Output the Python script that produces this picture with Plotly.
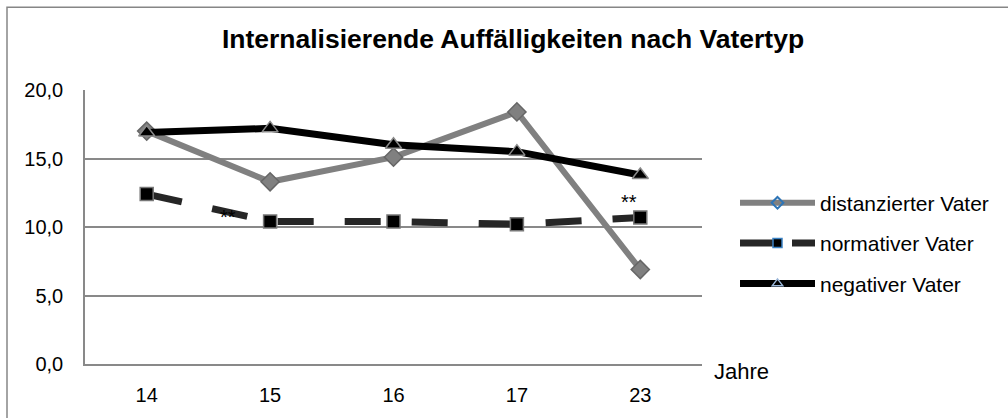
import plotly.graph_objects as go

# ---- data ----
jahre = ["14", "15", "16", "17", "23"]
distanziert = [17.0, 13.3, 15.1, 18.4, 6.9]
normativ = [12.4, 10.4, 10.4, 10.2, 10.7]
negativ = [16.9, 17.2, 16.0, 15.5, 13.8]
series_names = ["distanzierter Vater", "normativer Vater", "negativer Vater"]
sig_text = ["**", "**"]
sig_x = [0.66, 3.906]
sig_y = [10.7, 11.8]
y_ticks = [0, 5, 10, 15, 20]

FONT = "Liberation Sans, Arial, sans-serif"
GRID = "#898989"

fig = go.Figure()

# plot traces
fig.add_trace(go.Scatter(
    x=jahre, y=distanziert, mode="lines+markers", name=series_names[0],
    line=dict(color="#808080", width=6),
    marker=dict(symbol="diamond", size=14, color="#808080",
                line=dict(color="#666666", width=1.5)),
    showlegend=False, legendgroup="a"))
fig.add_trace(go.Scatter(
    x=jahre, y=normativ, mode="lines+markers", name=series_names[1],
    line=dict(color="#262626", width=7, dash="36px,31px"),
    marker=dict(symbol="square", size=13, color="#000000",
                line=dict(color="#777777", width=1.5)),
    showlegend=False, legendgroup="b"))
fig.add_trace(go.Scatter(
    x=jahre, y=negativ, mode="lines+markers", name=series_names[2],
    line=dict(color="#000000", width=7),
    marker=dict(symbol="triangle-up", size=14, color="#000000",
                line=dict(color="#8a8a8a", width=1.5)),
    showlegend=False, legendgroup="c"))

# legend entries (legend styling differs from plot markers)
fig.add_trace(go.Scatter(
    x=[None], y=[None], mode="lines+markers", name=series_names[0],
    line=dict(color="#808080", width=6),
    marker=dict(symbol="diamond-open", size=9, color="#2e75b6",
                line=dict(width=2)),
    legendgroup="a"))
fig.add_trace(go.Scatter(
    x=[None], y=[None], mode="lines+markers", name=series_names[1],
    line=dict(color="#262626", width=7, dash="34px,18px"),
    marker=dict(symbol="square", size=9, color="#000000",
                line=dict(color="#3b82c4", width=1.5)),
    legendgroup="b"))
fig.add_trace(go.Scatter(
    x=[None], y=[None], mode="lines+markers", name=series_names[2],
    line=dict(color="#000000", width=7),
    marker=dict(symbol="triangle-up", size=9, color="#000000",
                line=dict(color="#9bb7d9", width=1.5)),
    legendgroup="c"))

# significance marks
for t, sx, sy in zip(sig_text, sig_x, sig_y):
    fig.add_annotation(x=sx, y=sy, xref="x", yref="y", text=t,
                       showarrow=False, font=dict(family=FONT, size=20, color="#000"))

# axis title "Jahre"
fig.add_annotation(x=(771 - 85) / 617, y=(368 - 390) / 278, xref="paper", yref="paper",
                   text="Jahre", showarrow=False,
                   font=dict(family=FONT, size=22, color="#000"))

# outer frame (right and bottom edges lie outside the visible page)
fig.add_shape(type="rect", xref="paper", yref="paper",
              x0=(7 - 85) / 617, x1=(1040 - 85) / 617,
              y0=(368 - 450) / 278, y1=(368 - 6) / 278,
              line=dict(color="#868686", width=1.5), layer="below")

fig.update_layout(
    width=1008, height=418,
    margin=dict(l=85, r=306, t=90, b=50),
    paper_bgcolor="white", plot_bgcolor="white",
    separators=",.",
    font=dict(family=FONT, size=20, color="#000"),
    title=dict(text="<b>Internalisierende Auffälligkeiten nach Vatertyp</b>",
               x=513 / 1008, xanchor="center", y=1 - 39 / 418, yanchor="middle",
               font=dict(family=FONT, size=26.5, color="#000")),
    legend=dict(x=(735 - 85) / 617, y=(368 - 184) / 278, xanchor="left", yanchor="top",
                font=dict(family=FONT, size=21, color="#000"),
                tracegroupgap=10, itemwidth=75, bgcolor="rgba(0,0,0,0)"),
    xaxis=dict(type="category", range=[-0.5, 4.5], showgrid=False,
               showline=True, linecolor=GRID, linewidth=1.5,
               ticks="", ticklabelstandoff=12,
               tickfont=dict(family=FONT, size=20, color="#000")),
    yaxis=dict(range=[0, 20], tickvals=y_ticks, tickformat=".1f",
               showgrid=True, gridcolor=GRID, gridwidth=1.5,
               showline=True, linecolor=GRID, linewidth=1.5, zeroline=False,
               ticks="", ticklabelstandoff=16,
               tickfont=dict(family=FONT, size=20, color="#000")),
)

fig.write_html("out.html", config={"displayModeBar": False},
               post_script="document.body.style.margin='0';")
